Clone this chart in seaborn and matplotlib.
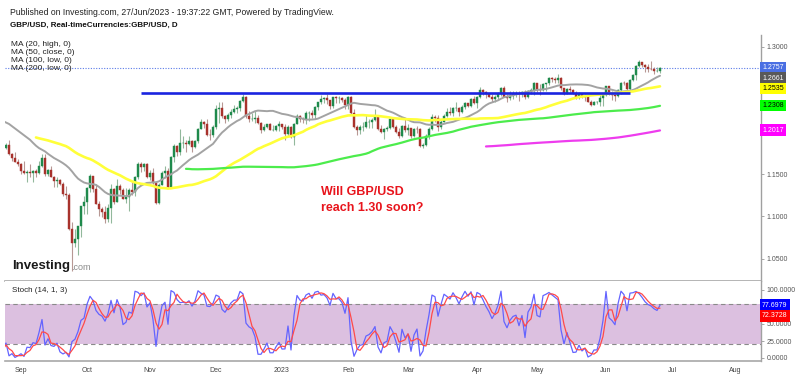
import numpy as np
import pandas as pd
import matplotlib
matplotlib.use("Agg")
import matplotlib.pyplot as plt
import matplotlib.transforms as mtransforms
import seaborn as sns

sns.set_style("white")
plt.rcParams['font.family'] = ['Liberation Sans', 'DejaVu Sans']

# ---------------- data (GBP/USD daily, 1 Jul 2022 - 27 Jun 2023) ----------------
first_day = "2022-07-01"
last_day = "2023-06-27"
axis_end_day = "2023-08-31"

opens = [
    # Jul 2022
    1.2177, 1.2097, 1.2120, 1.1960, 1.1920, 1.2030, 1.2025, 1.1890, 1.1890, 1.1920, 1.1830, 1.1865, 1.1960, 1.1990, 1.1975, 1.1990, 1.2005, 1.2040, 1.2030, 1.2160, 1.2180,
    # Aug 2022
    1.2170, 1.2245, 1.2165, 1.2150, 1.2150, 1.2075, 1.2085, 1.2075, 1.2215, 1.2195, 1.2135, 1.2055, 1.2100, 1.2060, 1.1950, 1.1830, 1.1765, 1.1830, 1.1805, 1.1840, 1.1735, 1.1690, 1.1645,
    # Sep 2022
    1.1620, 1.1540, 1.1510, 1.1520, 1.1510, 1.1530, 1.1510, 1.1590, 1.1685, 1.1500, 1.1545, 1.1470, 1.1420, 1.1435, 1.1385, 1.1265, 1.1255, 1.0855, 1.0685, 1.0735, 1.0890, 1.1120,
    # Oct 2022
    1.1165, 1.1330, 1.1475, 1.1320, 1.1150, 1.1085, 1.1055, 1.0970, 1.1095, 1.1320, 1.1175, 1.1360, 1.1310, 1.1205, 1.1225, 1.1310, 1.1290, 1.1470, 1.1620, 1.1585, 1.1615,
    # Nov 2022
    1.1465, 1.1510, 1.1390, 1.1160, 1.1375, 1.1510, 1.1540, 1.1350, 1.1705, 1.1830, 1.1755, 1.1865, 1.1870, 1.1860, 1.1890, 1.1820, 1.1885, 1.2035, 1.2115, 1.2095, 1.1960, 1.1955,
    # Dec 2022
    1.2055, 1.2265, 1.2285, 1.2180, 1.2155, 1.2195, 1.2235, 1.2265, 1.2275, 1.2365, 1.2415, 1.2180, 1.2150, 1.2155, 1.2160, 1.2105, 1.2015, 1.2050, 1.2090, 1.2025, 1.2025, 1.2065,
    # Jan 2023
    1.2085, 1.2050, 1.1970, 1.2060, 1.1940, 1.2090, 1.2180, 1.2155, 1.2150, 1.2215, 1.2225, 1.2200, 1.2290, 1.2345, 1.2390, 1.2395, 1.2370, 1.2305, 1.2410, 1.2395, 1.2395, 1.2375,
    # Feb 2023
    1.2320, 1.2405, 1.2225, 1.2055, 1.2020, 1.2050, 1.2055, 1.2115, 1.2120, 1.2140, 1.2175, 1.2035, 1.1995, 1.2030, 1.2040, 1.2150, 1.2050, 1.2000, 1.1945, 1.2065,
    # Mar 2023
    1.2020, 1.2040, 1.1950, 1.2035, 1.2030, 1.1830, 1.1840, 1.1945, 1.2030, 1.2175, 1.2165, 1.2050, 1.2120, 1.2180, 1.2230, 1.2225, 1.2275, 1.2285, 1.2235, 1.2290, 1.2335, 1.2305, 1.2390,
    # Apr 2023
    1.2335, 1.2410, 1.2495, 1.2465, 1.2440, 1.2415, 1.2380, 1.2410, 1.2450, 1.2520, 1.2415, 1.2395, 1.2425, 1.2440, 1.2445, 1.2440, 1.2470, 1.2405, 1.2480, 1.2495,
    # May 2023
    1.2570, 1.2495, 1.2490, 1.2565, 1.2570, 1.2630, 1.2625, 1.2615, 1.2635, 1.2510, 1.2450, 1.2505, 1.2490, 1.2455, 1.2415, 1.2445, 1.2420, 1.2410, 1.2350, 1.2315, 1.2345, 1.2345, 1.2400,
    # Jun 2023
    1.2435, 1.2540, 1.2445, 1.2435, 1.2420, 1.2495, 1.2580, 1.2575, 1.2505, 1.2610, 1.2665, 1.2780, 1.2820, 1.2790, 1.2765, 1.2745, 1.2735, 1.2715, 1.2715,
]
highs = [
    1.2185, 1.2165, 1.2150, 1.2015, 1.2060, 1.2055, 1.2035, 1.1920, 1.1965, 1.1935, 1.1890, 1.1990, 1.2020, 1.2015, 1.2005, 1.2065, 1.2065, 1.2100, 1.2185, 1.2195, 1.2245,
    1.2293, 1.2280, 1.2215, 1.2190, 1.2160, 1.2115, 1.2110, 1.2275, 1.2245, 1.2205, 1.2140, 1.2120, 1.2130, 1.2090, 1.1960, 1.1840, 1.1845, 1.1845, 1.1865, 1.1900, 1.1745, 1.1760, 1.1675,
    1.1630, 1.1650, 1.1550, 1.1615, 1.1550, 1.1560, 1.1650, 1.1735, 1.1740, 1.1560, 1.1590, 1.1475, 1.1460, 1.1440, 1.1405, 1.1360, 1.1275, 1.0935, 1.0845, 1.0890, 1.1125, 1.1235,
    1.1345, 1.1495, 1.1480, 1.1380, 1.1185, 1.1115, 1.1120, 1.1140, 1.1380, 1.1340, 1.1440, 1.1380, 1.1335, 1.1335, 1.1340, 1.1410, 1.1480, 1.1645, 1.1645, 1.1625, 1.1625,
    1.1550, 1.1565, 1.1405, 1.1390, 1.1535, 1.1590, 1.1565, 1.1710, 1.1855, 1.1845, 1.2030, 1.1950, 1.1905, 1.1950, 1.1900, 1.1900, 1.2045, 1.2155, 1.2125, 1.2155, 1.2030, 1.2075,
    1.2310, 1.2345, 1.2345, 1.2195, 1.2220, 1.2265, 1.2320, 1.2300, 1.2375, 1.2446, 1.2425, 1.2240, 1.2220, 1.2240, 1.2195, 1.2115, 1.2085, 1.2095, 1.2100, 1.2075, 1.2080, 1.2125,
    1.2095, 1.2085, 1.2080, 1.2070, 1.2100, 1.2210, 1.2200, 1.2175, 1.2245, 1.2245, 1.2250, 1.2305, 1.2355, 1.2435, 1.2405, 1.2440, 1.2375, 1.2415, 1.2418, 1.2420, 1.2415, 1.2400,
    1.2418, 1.2425, 1.2265, 1.2075, 1.2080, 1.2110, 1.2195, 1.2150, 1.2160, 1.2270, 1.2185, 1.2075, 1.2045, 1.2065, 1.2160, 1.2155, 1.2075, 1.2040, 1.2075, 1.2145,
    1.2085, 1.2045, 1.2045, 1.2065, 1.2045, 1.1865, 1.1970, 1.2055, 1.2205, 1.2200, 1.2200, 1.2140, 1.2205, 1.2275, 1.2290, 1.2295, 1.2345, 1.2290, 1.2310, 1.2345, 1.2340, 1.2400, 1.2425,
    1.2420, 1.2525, 1.2500, 1.2485, 1.2460, 1.2445, 1.2435, 1.2465, 1.2525, 1.2545, 1.2445, 1.2475, 1.2475, 1.2475, 1.2475, 1.2480, 1.2490, 1.2490, 1.2515, 1.2585,
    1.2580, 1.2565, 1.2580, 1.2580, 1.2640, 1.2645, 1.2640, 1.2680, 1.2650, 1.2520, 1.2515, 1.2545, 1.2505, 1.2485, 1.2470, 1.2455, 1.2445, 1.2420, 1.2375, 1.2365, 1.2365, 1.2445, 1.2445,
    1.2545, 1.2545, 1.2480, 1.2440, 1.2500, 1.2585, 1.2595, 1.2585, 1.2625, 1.2680, 1.2790, 1.2848, 1.2825, 1.2795, 1.2800, 1.2840, 1.2760, 1.2760, 1.2765,
]
lows = [
    1.1976, 1.2075, 1.1900, 1.1875, 1.1905, 1.1975, 1.1875, 1.1810, 1.1805, 1.1760, 1.1815, 1.1855, 1.1935, 1.1950, 1.1890, 1.1950, 1.1980, 1.2005, 1.2015, 1.2100, 1.2140,
    1.2165, 1.2150, 1.2110, 1.2005, 1.2005, 1.2045, 1.2040, 1.2065, 1.2175, 1.2120, 1.2025, 1.2030, 1.2035, 1.1935, 1.1815, 1.1760, 1.1717, 1.1775, 1.1790, 1.1725, 1.1650, 1.1640, 1.1600,
    1.1500, 1.1495, 1.1405, 1.1470, 1.1405, 1.1460, 1.1500, 1.1580, 1.1480, 1.1475, 1.1460, 1.1350, 1.1350, 1.1375, 1.1235, 1.1210, 1.0840, 1.0350, 1.0640, 1.0540, 1.0760, 1.1025,
    1.1025, 1.1285, 1.1290, 1.1140, 1.1000, 1.0995, 1.0925, 1.0935, 1.0925, 1.1150, 1.1165, 1.1260, 1.1200, 1.1160, 1.1060, 1.1255, 1.1245, 1.1445, 1.1525, 1.1535, 1.1455,
    1.1435, 1.1385, 1.1145, 1.1150, 1.1365, 1.1455, 1.1335, 1.1335, 1.1645, 1.1710, 1.1720, 1.1805, 1.1765, 1.1840, 1.1765, 1.1810, 1.1870, 1.2030, 1.2040, 1.1945, 1.1900, 1.1935,
    1.2030, 1.2105, 1.2160, 1.2105, 1.2125, 1.2165, 1.2220, 1.2215, 1.2240, 1.2345, 1.2160, 1.2110, 1.2125, 1.2100, 1.2085, 1.1990, 1.2005, 1.2045, 1.2015, 1.2005, 1.2010, 1.2010,
    1.2030, 1.1900, 1.1950, 1.1930, 1.1840, 1.2085, 1.2120, 1.2100, 1.2090, 1.2130, 1.2165, 1.2155, 1.2255, 1.2330, 1.2335, 1.2330, 1.2265, 1.2285, 1.2335, 1.2335, 1.2345, 1.2265,
    1.2265, 1.2210, 1.2045, 1.1960, 1.1975, 1.2010, 1.2045, 1.2045, 1.2045, 1.2125, 1.2015, 1.1985, 1.1915, 1.2005, 1.2030, 1.2040, 1.1990, 1.1925, 1.1935, 1.2000,
    1.1960, 1.1920, 1.1940, 1.1990, 1.1820, 1.1803, 1.1830, 1.1910, 1.2020, 1.2110, 1.2010, 1.2035, 1.2110, 1.2175, 1.2195, 1.2180, 1.2245, 1.2190, 1.2225, 1.2265, 1.2290, 1.2295, 1.2330,
    1.2275, 1.2395, 1.2430, 1.2395, 1.2405, 1.2345, 1.2345, 1.2385, 1.2425, 1.2405, 1.2345, 1.2375, 1.2390, 1.2410, 1.2365, 1.2415, 1.2390, 1.2400, 1.2440, 1.2435,
    1.2470, 1.2435, 1.2475, 1.2480, 1.2555, 1.2590, 1.2580, 1.2575, 1.2490, 1.2435, 1.2445, 1.2465, 1.2445, 1.2390, 1.2390, 1.2400, 1.2365, 1.2345, 1.2300, 1.2310, 1.2330, 1.2305, 1.2305,
    1.2425, 1.2435, 1.2370, 1.2365, 1.2405, 1.2445, 1.2555, 1.2485, 1.2485, 1.2595, 1.2615, 1.2760, 1.2765, 1.2710, 1.2705, 1.2725, 1.2685, 1.2705, 1.2690,
]
closes = [
    1.2097, 1.2120, 1.1960, 1.1920, 1.2030, 1.2025, 1.1890, 1.1890, 1.1920, 1.1830, 1.1865, 1.1960, 1.1990, 1.1975, 1.1990, 1.2005, 1.2040, 1.2030, 1.2160, 1.2180, 1.2170,
    1.2245, 1.2165, 1.2150, 1.2150, 1.2075, 1.2085, 1.2075, 1.2215, 1.2195, 1.2135, 1.2055, 1.2100, 1.2060, 1.1950, 1.1830, 1.1765, 1.1830, 1.1805, 1.1840, 1.1735, 1.1690, 1.1645, 1.1620,
    1.1540, 1.1510, 1.1520, 1.1510, 1.1530, 1.1510, 1.1590, 1.1685, 1.1500, 1.1545, 1.1470, 1.1420, 1.1435, 1.1385, 1.1265, 1.1255, 1.0855, 1.0685, 1.0735, 1.0890, 1.1120, 1.1165,
    1.1330, 1.1475, 1.1320, 1.1150, 1.1085, 1.1055, 1.0970, 1.1095, 1.1320, 1.1175, 1.1360, 1.1310, 1.1205, 1.1225, 1.1310, 1.1290, 1.1470, 1.1620, 1.1585, 1.1615, 1.1465,
    1.1510, 1.1390, 1.1160, 1.1375, 1.1510, 1.1540, 1.1350, 1.1705, 1.1830, 1.1755, 1.1865, 1.1870, 1.1860, 1.1890, 1.1820, 1.1885, 1.2035, 1.2115, 1.2095, 1.1960, 1.1955, 1.2055,
    1.2265, 1.2285, 1.2180, 1.2155, 1.2195, 1.2235, 1.2265, 1.2275, 1.2365, 1.2415, 1.2180, 1.2150, 1.2155, 1.2160, 1.2105, 1.2015, 1.2050, 1.2090, 1.2025, 1.2025, 1.2065, 1.2095,
    1.2050, 1.1970, 1.2060, 1.1940, 1.2090, 1.2180, 1.2155, 1.2150, 1.2215, 1.2225, 1.2200, 1.2290, 1.2345, 1.2390, 1.2395, 1.2370, 1.2305, 1.2410, 1.2395, 1.2395, 1.2375, 1.2320,
    1.2405, 1.2225, 1.2055, 1.2020, 1.2050, 1.2055, 1.2115, 1.2120, 1.2140, 1.2175, 1.2035, 1.1995, 1.2030, 1.2040, 1.2150, 1.2050, 1.2000, 1.1945, 1.2065, 1.2020,
    1.2040, 1.1950, 1.2035, 1.2030, 1.1830, 1.1840, 1.1945, 1.2030, 1.2175, 1.2165, 1.2050, 1.2120, 1.2180, 1.2230, 1.2225, 1.2275, 1.2285, 1.2235, 1.2290, 1.2335, 1.2305, 1.2390, 1.2335,
    1.2410, 1.2495, 1.2465, 1.2440, 1.2415, 1.2380, 1.2410, 1.2450, 1.2520, 1.2415, 1.2395, 1.2425, 1.2440, 1.2445, 1.2440, 1.2470, 1.2405, 1.2480, 1.2495, 1.2570,
    1.2495, 1.2490, 1.2565, 1.2570, 1.2630, 1.2625, 1.2615, 1.2635, 1.2510, 1.2450, 1.2505, 1.2490, 1.2455, 1.2415, 1.2445, 1.2420, 1.2410, 1.2350, 1.2315, 1.2345, 1.2345, 1.2400, 1.2435,
    1.2540, 1.2445, 1.2435, 1.2420, 1.2495, 1.2580, 1.2575, 1.2505, 1.2610, 1.2665, 1.2780, 1.2820, 1.2790, 1.2765, 1.2745, 1.2735, 1.2715, 1.2715, 1.2757,
]

# moving-average settings (window, source column), colours
ma_specs = [(20, "high"), (50, "close"), (100, "low"), (200, "low")]
ma_names = ["MA (20, high, 0)", "MA (50, close, 0)", "MA (100, low, 0)", "MA (200, low, 0)"]
ma_colors = ["#a3a3a3", "#ffff3a", "#4cec4c", "#ee3cee"]
ma_widths = [1.4, 1.9, 1.6, 1.6]

# horizontal resistance line
hline_dates = ["2022-10-27", "2023-06-13"]
hline_level = 1.2457

# right-side value labels as shown on the chart
last_price = 1.2757
price_labels = ["1.2757", "1.2661", "1.2535", "1.2308", "1.2017"]
price_label_values = [1.2757, 1.2661, 1.2535, 1.2308, 1.2017]
price_label_bg = ["#4a6fe3", "#595959", "#ffff00", "#00ff00", "#ff00ff"]
price_label_fg = ["white", "white", "black", "black", "white"]
stoch_labels = ["77.6979", "72.3728"]
stoch_label_values = [77.6979, 72.3728]
stoch_label_bg = ["#0000ff", "#ff0000"]

price_ticks = [1.05, 1.10, 1.15, 1.30]
stoch_ticks = [0, 25, 50, 100]
month_tick_dates = ["2022-09-01", "2022-10-03", "2022-11-01", "2022-12-01", "2023-01-02", "2023-02-01",
                    "2023-03-01", "2023-04-03", "2023-05-01", "2023-06-01", "2023-07-03", "2023-08-01"]
month_tick_labels = ["Sep", "Oct", "Nov", "Dec", "2023", "Feb", "Mar", "Apr", "May", "Jun", "Jul", "Aug"]

# ---------------- frame ----------------
dates = pd.bdate_range(first_day, last_day)
all_dates = pd.bdate_range(first_day, axis_end_day)
df = pd.DataFrame({"date": dates, "open": opens, "high": highs, "low": lows, "close": closes})
df["i"] = np.arange(len(df))
for (w, src), name in zip(ma_specs, ma_names):
    df[name] = df[src].rolling(w).mean()
ll = df["low"].rolling(14).min()
hh = df["high"].rolling(14).max()
df["k"] = 100 * (df["close"] - ll) / (hh - ll)
df["d"] = df["k"].rolling(3).mean()

W, H = 800, 376
fig = plt.figure(figsize=(W / 100, H / 100), dpi=100)


def rect(l, t, r, b):
    return [l / W, 1 - b / H, (r - l) / W, (b - t) / H]


ax = fig.add_axes(rect(5, 35, 761, 281))
axs = fig.add_axes(rect(5, 281, 761, 361), sharex=ax)

# ---------------- candles ----------------
up = df[df["close"] >= df["open"]]
dn = df[df["close"] < df["open"]]
ax.vlines(up["i"], up["low"], up["high"], color="#92b89c", lw=0.8, zorder=2)
ax.vlines(dn["i"], dn["low"], dn["high"], color="#b79894", lw=0.8, zorder=2)
ax.bar(up["i"], up["close"] - up["open"], bottom=up["open"], width=0.62,
       color="#1f8a4c", edgecolor="#1f8a4c", lw=0.3, zorder=3)
ax.bar(dn["i"], dn["close"] - dn["open"], bottom=dn["open"], width=0.62,
       color="#a8322c", edgecolor="#a8322c", lw=0.3, zorder=3)

# moving averages
for name, c, lw in zip(ma_names, ma_colors, ma_widths):
    sub = df[["i", name]].dropna()
    sns.lineplot(data=sub, x="i", y=name, ax=ax, color=c, lw=lw, estimator=None,
                 sort=False, zorder=4)

# resistance line
h0 = all_dates.get_loc(pd.Timestamp(hline_dates[0]))
h1 = all_dates.get_loc(pd.Timestamp(hline_dates[1]))
ax.plot([h0, h1], [hline_level, hline_level], color="#1a24e0", lw=1.9, zorder=5, solid_capstyle="butt")

# last price dotted line
ax.axhline(last_price, color="#5b7be8", lw=0.8, ls=(0, (1, 1.4)), zorder=1)

# ---------------- stochastic ----------------
axs.axhspan(20, 80, color="#dcc0e0", lw=0, zorder=0)
for lvl in (20, 80):
    axs.axhline(lvl, color="#8a8a8a", lw=0.8, ls=(0, (4, 3)), zorder=1)
sk = df[["i", "k"]].dropna()
sd = df[["i", "d"]].dropna()
sns.lineplot(data=sk, x="i", y="k", ax=axs, color="#6464ff", lw=0.9, estimator=None, sort=False, zorder=3)
sns.lineplot(data=sd, x="i", y="d", ax=axs, color="#ff4a4a", lw=0.9, estimator=None, sort=False, zorder=4)

# ---------------- axes / scales ----------------
sep1 = all_dates.get_loc(pd.Timestamp(month_tick_dates[0]))
ax.set_xlim(sep1 - (21 - 5) / 3.0, sep1 + (761 - 21) / 3.0)
ppu = 127 / 0.15
ax.set_ylim(1.30 - (281 - 47) / ppu, 1.30 + (47 - 35) / ppu)
axs.set_ylim(-(361 - 358) / 0.68, 100 + (290 - 281) / 0.68)

tick_pos = [all_dates.get_loc(pd.Timestamp(d)) for d in month_tick_dates]
axs.set_xticks(tick_pos)
axs.set_xticklabels(month_tick_labels)
ax.tick_params(axis="x", bottom=False, labelbottom=False)
axs.tick_params(axis="x", length=2, width=0.6, colors="#999999", labelcolor="#444444", labelsize=5, pad=2)

for a in (ax, axs):
    a.yaxis.tick_right()
    a.tick_params(axis="y", length=2, width=0.6, colors="#999999", labelcolor="#555555", labelsize=5, pad=2)
    a.set_xlabel("")
    a.set_ylabel("")
    a.spines["top"].set_visible(False)
    a.spines["left"].set_visible(False)
    a.spines["right"].set_color("#a0a0a0")
    a.spines["right"].set_linewidth(1.0)
    a.spines["bottom"].set_color("#a8a8a8")
    a.spines["bottom"].set_linewidth(1.2)
    a.grid(False)

ax.set_yticks(price_ticks)
ax.set_yticklabels([f"{v:.4f}" for v in price_ticks])
axs.set_yticks(stoch_ticks)
axs.set_yticklabels([f"{v:.4f}" for v in stoch_ticks])

# ---------------- value labels on the right ----------------
def place_labels(values, min_gap):
    pos = []
    for v in values:
        p = v
        if pos and pos[-1] - p < min_gap:
            p = pos[-1] - min_gap
        pos.append(p)
    return pos


trans = mtransforms.blended_transform_factory(ax.transAxes, ax.transData)
for txt, p, bg, fg in zip(price_labels, place_labels(price_label_values, 10.5 / ppu),
                          price_label_bg, price_label_fg):
    ax.text(1.0015, p, txt, transform=trans, fontsize=5, color=fg, ha="left", va="center",
            clip_on=False, zorder=10,
            bbox=dict(boxstyle="square,pad=0.34", fc=bg, ec="none"))

trans_s = mtransforms.blended_transform_factory(axs.transAxes, axs.transData)
for txt, p, bg in zip(stoch_labels, place_labels(stoch_label_values, 10.5 / 0.68), stoch_label_bg):
    axs.text(1.0015, p, txt, transform=trans_s, fontsize=5, color="white", ha="left", va="center",
             clip_on=False, zorder=10,
             bbox=dict(boxstyle="square,pad=0.34", fc=bg, ec="none"))

# ---------------- texts ----------------
def ftext(x, y, s, **kw):
    fig.text(x / W, 1 - y / H, s, va="center", ha="left", **kw)


ftext(10, 12.5, "Published on Investing.com, 27/Jun/2023 - 19:37:22 GMT, Powered by TradingView.",
      fontsize=6.2, color="#222222")
ftext(10, 25, "GBP/USD, Real-timeCurrencies:GBP/USD, D", fontsize=5.8, fontweight="bold", color="#111111")
for name, y in zip(ma_names, [45, 52.5, 60, 68]):
    ftext(11, y, name, fontsize=6.0, color="#222222")

ftext(12, 291, "Stoch (14, 1, 3)", fontsize=5.8, color="#222222")

ftext(12, 266, "Investing", fontsize=9.5, fontweight="bold", color="#1a1a1a")
ftext(71, 268, ".com", fontsize=6.5, color="#8a8a8a")

ftext(321, 192, "Will GBP/USD", fontsize=9, fontweight="bold", color="#e8141c")
ftext(321, 208, "reach 1.30 soon?", fontsize=9, fontweight="bold", color="#e8141c")

fig.savefig("out.png", dpi=100, facecolor="white")
